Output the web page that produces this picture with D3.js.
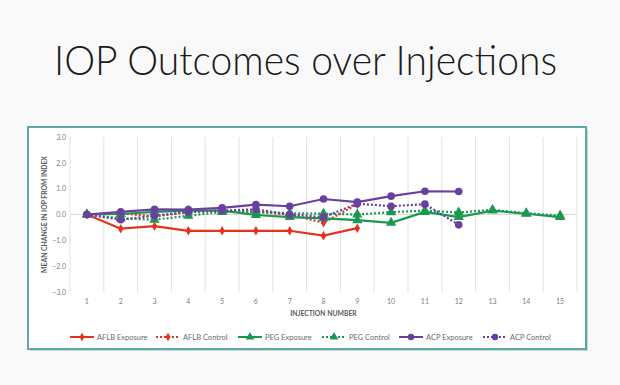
<!DOCTYPE html>
<html>
<head>
<meta charset="utf-8">
<script src="https://cdn.jsdelivr.net/npm/d3@7"></script>
<style>
  body { margin: 0; background: #f9f9f9; }
  svg { display: block; }
</style>
</head>
<body>
<div id="chart-holder"></div>
<script>
// ****DATA****
const injections = ["1","2","3","4","5","6","7","8","9","10","11","12","13","14","15"];
const yTicks = [3, 2, 1, 0, -1, -2, -3];

const aflbExposure = [0, -0.55, -0.45, -0.63, -0.63, -0.63, -0.63, -0.82, -0.53];
const aflbControl  = [0, 0.05, -0.08, 0.1, 0.15, 0.1, 0.0, -0.32, 0.4];
const pegExposure  = [0, 0.02, 0.1, 0.15, 0.15, -0.02, -0.1, -0.15, -0.22, -0.32, 0.1, -0.1, 0.15, 0.03, -0.1];
const pegControl   = [0, -0.15, -0.2, -0.05, 0.1, 0.1, 0.05, 0.03, 0.0, 0.09, 0.15, 0.08, 0.18, 0.05, -0.04];
const acpExposure  = [0, 0.1, 0.2, 0.19, 0.26, 0.38, 0.32, 0.6, 0.48, 0.71, 0.9, 0.89];
const acpControl   = [0, -0.2, -0.05, 0.1, 0.15, 0.2, 0.0, -0.1, 0.42, 0.32, 0.4, -0.4];

const seriesNames = ["AFLB Exposure", "AFLB Control", "PEG Exposure", "PEG Control", "ACP Exposure", "ACP Control"];

const red = "#e4321f", green = "#1a9850", purple = "#6b3fa0";
const series = [
  {name: seriesNames[0], values: aflbExposure, color: red, dash: null, symbol: d3.symbolDiamond},
  {name: seriesNames[1], values: aflbControl, color: red, dash: "2,2", symbol: d3.symbolDiamond},
  {name: seriesNames[2], values: pegExposure, color: green, dash: null, symbol: d3.symbolTriangle},
  {name: seriesNames[3], values: pegControl, color: green, dash: "2,2", symbol: d3.symbolTriangle},
  {name: seriesNames[4], values: acpExposure, color: purple, dash: null, symbol: d3.symbolCircle},
  {name: seriesNames[5], values: acpControl, color: purple, dash: "2,2", symbol: d3.symbolCircle}
];

// ****CANVAS****
const width = 620, height = 385;
const svg = d3.select('#chart-holder').append('svg')
    .attr('width', width).attr('height', height);

svg.append('rect').attr('width', width).attr('height', height).attr('fill', '#f9f9f9');

// title
svg.append('text')
    .attr('x', 54).attr('y', 75)
    .attr('textLength', 503)
    .attr('lengthAdjust', 'spacingAndGlyphs')
    .style('font-family', 'Lato, "Open Sans", sans-serif')
    .style('font-weight', 300)
    .style('font-size', '41px')
    .style('fill', '#1b1b1b')
    .text('IOP Outcomes over Injections');

// frame with shadow
svg.append('rect')
    .attr('x', 30).attr('y', 129).attr('width', 558).attr('height', 222)
    .attr('fill', '#9bbcbc').attr('opacity', 0.6);
svg.append('rect')
    .attr('x', 28).attr('y', 127).attr('width', 558).attr('height', 222)
    .attr('fill', '#ffffff')
    .attr('stroke', '#5ea9a8').attr('stroke-width', 2);

// ****SCALES****
const plotLeft = 70, plotRight = 577, plotTop = 137, plotBottom = 292;
const xScale = d3.scaleBand().domain(injections).range([plotLeft, plotRight]);
const yScale = d3.scaleLinear().domain([-3, 3]).range([plotBottom, plotTop]);
const xPos = i => xScale(injections[i]) + xScale.bandwidth() / 2;

// vertical gridlines at category boundaries
svg.append('g')
    .attr('transform', `translate(0, ${plotBottom})`)
    .call(d3.axisBottom(xScale).tickSize(-(plotBottom - plotTop)).tickFormat('').tickSizeOuter(0))
    .call(g => g.select('.domain').remove())
    .call(g => g.selectAll('.tick line')
        .attr('transform', `translate(${xScale.bandwidth() / 2}, 0)`)
        .attr('stroke', '#e2e2e2').attr('stroke-width', 1));

// y axis line
svg.append('line')
    .attr('x1', plotLeft).attr('x2', plotLeft)
    .attr('y1', plotTop).attr('y2', plotBottom)
    .attr('stroke', '#e2e2e2');

// zero line
svg.append('line')
    .attr('x1', plotLeft).attr('x2', plotRight)
    .attr('y1', yScale(0)).attr('y2', yScale(0))
    .attr('stroke', '#d9d9d9');

// y tick labels
const yAxis = svg.append('g')
    .attr('transform', `translate(${plotLeft}, 0)`)
    .call(d3.axisLeft(yScale).tickValues(yTicks).tickFormat(d3.format('.1f')).tickSize(0).tickPadding(4))
    .call(g => g.select('.domain').remove());
yAxis.selectAll('text')
    .style('font-family', 'Lato, sans-serif')
    .style('font-size', '7px')
    .style('fill', '#808080');

// x tick labels
const xAxis = svg.append('g')
    .attr('transform', `translate(0, ${plotBottom})`)
    .call(d3.axisBottom(xScale).tickSize(0).tickPadding(7))
    .call(g => g.select('.domain').remove());
xAxis.selectAll('text')
    .style('font-family', 'Lato, sans-serif')
    .style('font-size', '7px')
    .style('fill', '#808080');

// axis titles
svg.append('text')
    .attr('x', (plotLeft + plotRight) / 2).attr('y', 316)
    .attr('text-anchor', 'middle')
    .style('font-family', 'Lato, sans-serif')
    .style('font-weight', 700)
    .style('font-size', '6.8px')
    .style('fill', '#5a5a5a')
    .text('INJECTION NUMBER');

svg.append('text')
    .attr('transform', `translate(47, ${(plotTop + plotBottom) / 2}) rotate(-90)`)
    .attr('text-anchor', 'middle')
    .style('font-family', 'Lato, sans-serif')
    .style('font-weight', 700)
    .style('font-size', '6.8px')
    .style('fill', '#5a5a5a')
    .text('MEAN CHANGE IN IOP FROM INDEX');

// ****PLOT THE DATA****
const line = d3.line().x((d, i) => xPos(i)).y(d => yScale(d));
const plotGroup = svg.append('g');

series.forEach(s => {
    plotGroup.append('path')
        .datum(s.values)
        .attr('fill', 'none')
        .attr('stroke', s.color)
        .attr('stroke-width', 2.2)
        .attr('stroke-dasharray', s.dash)
        .attr('d', line);
});
series.forEach(s => {
    const size = s.symbol === d3.symbolDiamond ? 26 : 46;
    plotGroup.selectAll(null)
        .data(s.values)
        .enter()
        .append('path')
        .attr('transform', (d, i) => `translate(${xPos(i)}, ${yScale(d)})`)
        .attr('d', d3.symbol().type(s.symbol).size(size))
        .attr('fill', s.color);
});

// ****LEGEND****
const legendX = [70, 156, 238, 322, 399, 483];
const legendY = 337;
const legend = svg.append('g');
series.forEach((s, i) => {
    const g = legend.append('g').attr('transform', `translate(${legendX[i]}, ${legendY})`);
    g.append('line')
        .attr('x1', 0).attr('x2', 24).attr('y1', 0).attr('y2', 0)
        .attr('stroke', s.color).attr('stroke-width', 2)
        .attr('stroke-dasharray', s.dash);
    g.append('path')
        .attr('transform', 'translate(12, 0)')
        .attr('d', d3.symbol().type(s.symbol).size(s.symbol === d3.symbolDiamond ? 22 : 32))
        .attr('fill', s.color);
    g.append('text')
        .attr('x', 27).attr('y', 2.5)
        .style('font-family', 'Lato, sans-serif')
        .style('font-size', '7.5px')
        .style('fill', '#6a6a6a')
        .text(s.name);
});
</script>
</body>
</html>
